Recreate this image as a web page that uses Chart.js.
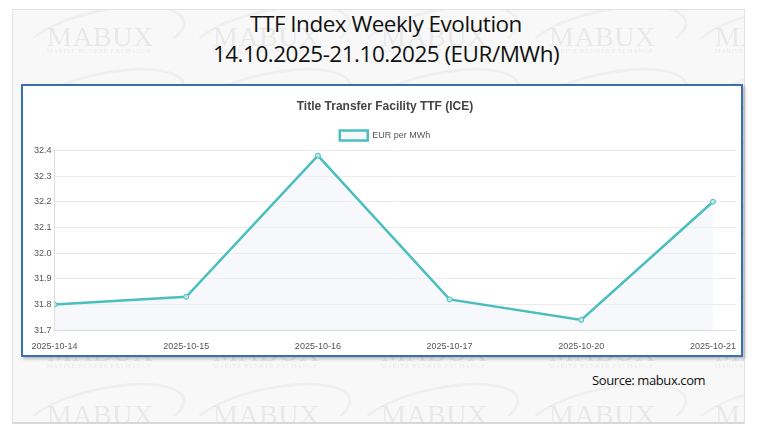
<!DOCTYPE html>
<html>
<head>
<meta charset="utf-8">
<script src="https://cdn.jsdelivr.net/npm/chart.js@4.4.0/dist/chart.umd.min.js"></script>
<style>
  html, body { margin: 0; padding: 0; background: #ffffff; width: 761px; height: 438px; overflow: hidden; }
  #panel { position: absolute; left: 12px; top: 9px; width: 731px; height: 412px; background: #f8f8f8;
           border: 1px solid #e2e2e2; border-bottom: 2px solid #d8d8d8; overflow: hidden; }
  .wm { position: absolute; width: 140px; height: 50px; }
  .wm .big { position: absolute; left: 0; width: 104px; top: 0; text-align: center; line-height: 1;
             font-family: "Liberation Serif", "DejaVu Serif", serif; font-size: 28px; letter-spacing: 0.5px;
             color: rgba(0,0,0,0.075); }
  .wm .small { position: absolute; left: -14px; width: 132px; top: 25px; text-align: center; line-height: 1;
             font-family: "Liberation Serif", "DejaVu Serif", serif; font-size: 7px; letter-spacing: 0.3px;
             color: rgba(0,0,0,0.09); text-transform: uppercase; }
  .wm .sw { position: absolute; left: -26px; top: -14px; width: 160px; height: 52px; border-radius: 50%;
            border: 3px solid rgba(0,0,0,0.035); border-left-color: transparent; border-bottom-color: transparent;
            transform: rotate(-12deg); }
  .title { position: absolute; left: 0; width: 772px; text-align: center; font-family: "Open Sans", "Liberation Sans", sans-serif;
           color: #111; font-size: 22.5px; letter-spacing: -0.5px; line-height: 1.2; }
  #box { position: absolute; left: 21px; top: 84px; width: 718px; height: 269px; background: #ffffff;
         border: 2px solid #3a70b2; box-shadow: 2px 2px 3px rgba(0,0,0,0.25); }
  #cv { position: absolute; left: 0; top: 0; }
  #source { position: absolute; left: 592px; top: 371px; font-family: "Open Sans", "Liberation Sans", sans-serif;
            font-size: 13px; color: #111; letter-spacing: -0.4px; }
</style>
</head>
<body>
<div id="panel"></div>
<div class="title" style="top: 10px;">TTF Index Weekly Evolution</div>
<div class="title" style="top: 40px;">14.10.2025-21.10.2025 (EUR/MWh)</div>
<div id="box"><canvas id="cv" width="718" height="269" style="width:718px;height:269px;"></canvas></div>
<div id="source">Source: mabux.com</div>
<script>
// ---- data ----
const dates = ["2025-10-14", "2025-10-15", "2025-10-16", "2025-10-17", "2025-10-20", "2025-10-21"];
const eurPerMWh = [31.80, 31.83, 32.38, 31.82, 31.74, 32.20];
const seriesLabel = "EUR per MWh";
const chartTitle = "Title Transfer Facility TTF (ICE)";
const yTicks = [31.7, 31.8, 31.9, 32.0, 32.1, 32.2, 32.3, 32.4];

// ---- watermark ----
const panel = document.getElementById('panel');
const wmCols = [47, 213, 381, 549, 715];
const wmRows = [23, 86, 149, 212, 275, 338, 401];
for (const r of wmRows) for (const c of wmCols) {
  const d = document.createElement('div');
  d.className = 'wm';
  d.style.left = (c - 13) + 'px';
  d.style.top = (r - 10) + 'px';
  d.innerHTML = '<div class="sw"></div><div class="big">MABUX</div><div class="small">Marine Bunker Exchange</div>';
  panel.appendChild(d);
}

// ---- chart ----
const points = dates.map((d, i) => ({ x: i, y: eurPerMWh[i] }));
Chart.defaults.font.family = '"Liberation Sans", Arial, sans-serif';
new Chart(document.getElementById('cv'), {
  type: 'line',
  data: {
    datasets: [{
      label: seriesLabel,
      data: points,
      borderColor: 'rgb(75,190,190)',
      backgroundColor: 'rgba(235,240,248,0.45)',
      pointBackgroundColor: 'rgba(190,230,230,1)',
      pointBorderColor: 'rgb(75,190,190)',
      pointRadius: 2.5,
      pointBorderWidth: 1,
      borderWidth: 2.5,
      fill: true,
      tension: 0
    }]
  },
  options: {
    responsive: false,
    animation: false,
    devicePixelRatio: 1,
    layout: { padding: { left: 8, right: 2, top: 0, bottom: 0 } },
    plugins: {
      title: { display: true, text: chartTitle, color: '#444', font: { size: 12, weight: 'bold' }, padding: { top: 13, bottom: 10 } },
      legend: { display: true, labels: { color: '#555', font: { size: 9 }, boxWidth: 28, boxHeight: 10, padding: 7 } },
      tooltip: { enabled: false }
    },
    scales: {
      x: {
        type: 'linear',
        min: 0,
        max: 5.175,
        afterBuildTicks: (axis) => { axis.ticks = dates.map((d, i) => ({ value: i })); },
        ticks: { color: '#555', font: { size: 9 }, maxRotation: 0, autoSkip: false,
                 callback: (v) => dates[v] },
        grid: { display: false },
        border: { display: true, color: '#ddd' }
      },
      y: {
        min: 31.7,
        max: 32.4,
        afterBuildTicks: (axis) => { axis.ticks = yTicks.map(v => ({ value: v })); },
        ticks: { color: '#555', font: { size: 9 }, callback: (v) => v.toFixed(1) },
        grid: { color: '#ebebeb', drawTicks: false },
        border: { display: true, color: '#ddd' }
      }
    }
  }
});
</script>
</body>
</html>
